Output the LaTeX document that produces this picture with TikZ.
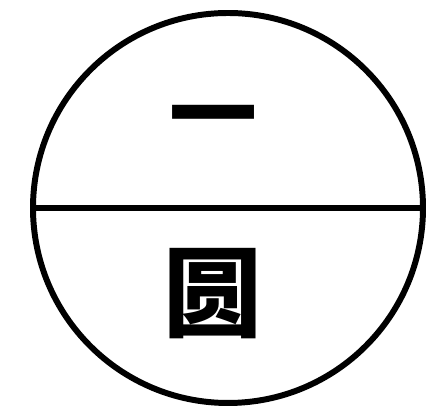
\documentclass[tikz,border=0pt]{standalone}
\usepackage{fontspec}
\newfontfamily\cjk{Noto Sans CJK SC}
\usepackage{tikz}
\usetikzlibrary{positioning}

\begin{document}
\begin{tikzpicture}[
  ring/.style={draw,circle,line width=3.4pt,minimum size=7.8cm,inner sep=0pt},
  toptext/.style={font=\cjk\bfseries\fontsize{50}{50}\selectfont,inner sep=0pt},
  bottext/.style={font=\cjk\bfseries\fontsize{56}{56}\selectfont,inner sep=0pt}]
  \useasboundingbox (0,0) rectangle (8.62,8.38);
  % --- outer circle split by a diameter ---
  \node[ring] (c) at (4.56,4.22) {};
  \draw[line width=3.2pt] (c.west) -- (c.east);
  % --- upper and lower labels ---
  \node[toptext] (up) at (4.26,5.86) {一};
  \node[bottext] (lo) at (4.26,2.50) {圆};
\end{tikzpicture}
\end{document}
